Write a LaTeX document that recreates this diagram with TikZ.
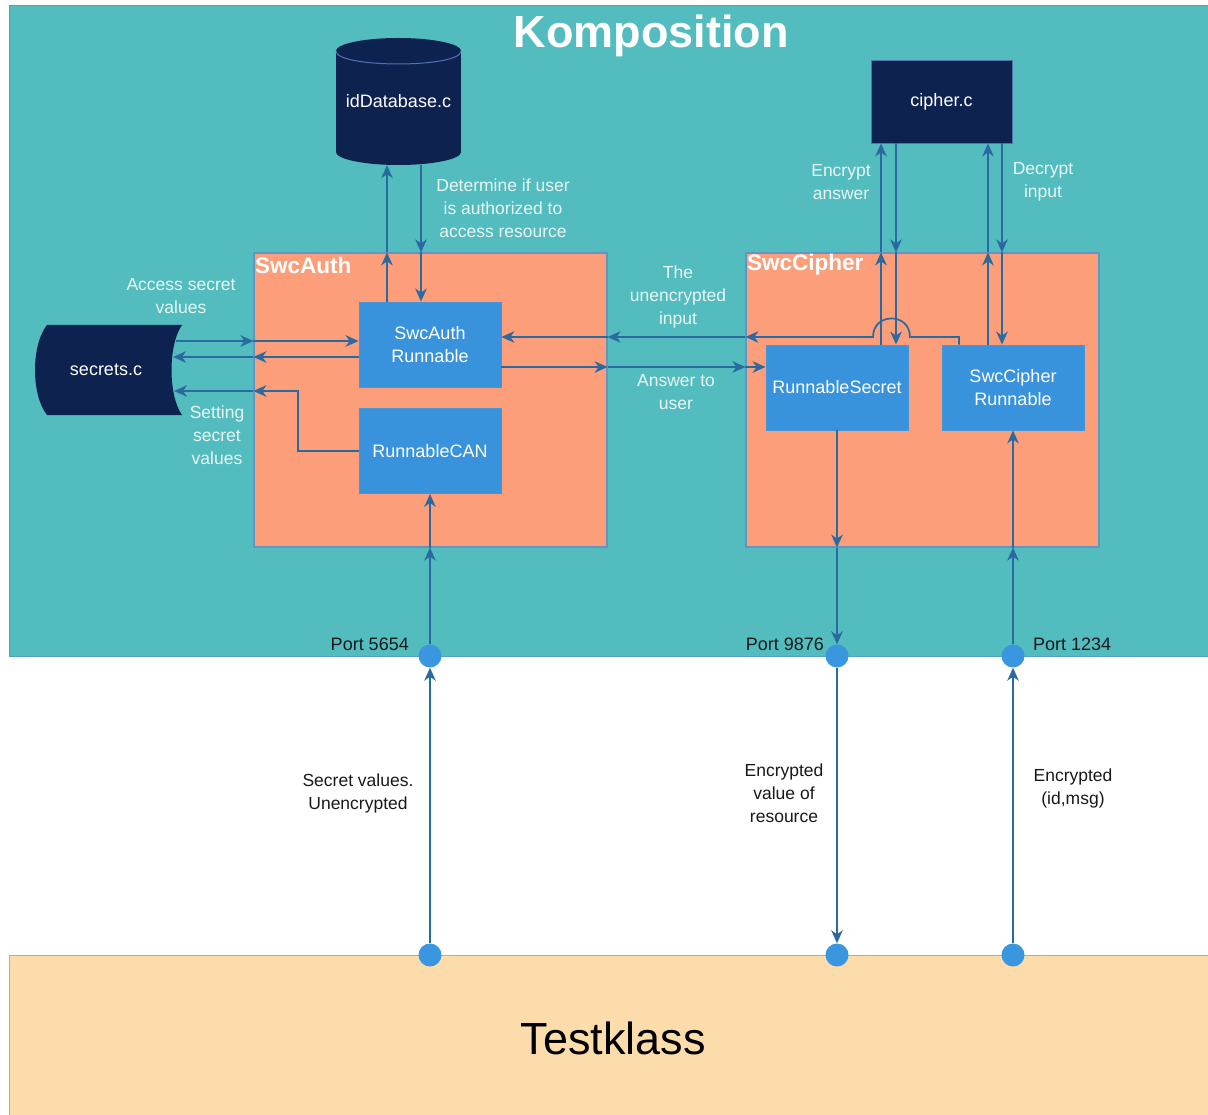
\documentclass[tikz,border=0pt]{standalone}
\usepackage{fontspec}
\setmainfont{Liberation Sans}
\usetikzlibrary{arrows.meta}

\definecolor{kompfill}{RGB}{82,188,190}
\definecolor{kompline}{RGB}{84,160,196}
\definecolor{swcfill}{RGB}{252,158,121}
\definecolor{swcline}{RGB}{98,148,196}
\definecolor{runfill}{RGB}{56,147,220}
\definecolor{runline}{RGB}{70,150,215}
\definecolor{dbnavy}{RGB}{14,34,80}
\definecolor{dbrim}{RGB}{80,115,175}
\definecolor{wirecol}{RGB}{42,106,160}
\definecolor{lightlbl}{RGB}{234,246,246}
\definecolor{testfill}{RGB}{253,220,171}
\definecolor{testline}{RGB}{140,184,208}
\definecolor{portfill}{RGB}{58,150,222}

\begin{document}
\begin{tikzpicture}[x=1pt,y=-1pt,
  swcbox/.style={draw=swcline, fill=swcfill, line width=1.2pt,
    minimum width=353pt, minimum height=294pt, inner sep=0pt},
  runbox/.style={fill=runfill, draw=runline, line width=0.8pt,
    minimum width=142pt, minimum height=85pt, inner sep=0pt,
    text=white, align=center, font=\fontsize{18}{23}\selectfont},
  filebox/.style={fill=dbnavy, draw=dbrim, line width=0.8pt,
    minimum width=141pt, minimum height=83pt, inner sep=0pt,
    text=white, font=\fontsize{18}{23}\selectfont},
  wire/.style={draw=wirecol, line width=1.7pt},
  flow/.style={wire, -{Stealth[length=13pt,width=11.5pt,inset=4pt]}},
  lightnote/.style={text=lightlbl, align=center, font=\fontsize{17.5}{23}\selectfont},
  darknote/.style={text=black!90, align=center, font=\fontsize{17.5}{23}\selectfont},
  portlbl/.style={text=black!90, font=\fontsize{18}{22}\selectfont, inner sep=0pt},
  swctitle/.style={anchor=west, text=white, inner sep=0pt,
    font=\bfseries\fontsize{22.5}{27}\selectfont},
  port/.style={circle, fill=portfill, minimum size=23pt, inner sep=0pt}]

\useasboundingbox (0,0) rectangle (1208,1115);
\fill[white] (0,0) rectangle (1208,1115);

% composition frame and test class frame
\node[draw=kompline, fill=kompfill, line width=1pt, anchor=north west,
  minimum width=1200pt, minimum height=651pt, inner sep=0pt] (komp) at (9,5) {};
\node[text=white, font=\bfseries\fontsize{45}{54}\selectfont] (title) at (651,36) {Komposition};

\node[draw=testline, fill=testfill, line width=1pt, anchor=north west,
  minimum width=1200pt, minimum height=162pt, inner sep=0pt] (test) at (9,955) {};
\node[text=black, font=\fontsize{45}{54}\selectfont] (testlbl) at (613,1038) {Testklass};

% software components
\node[swcbox] (auth) at (430.5,400) {};
\node[swctitle] (authlbl) at (255,265) {SwcAuth};
\node[swcbox] (ciph) at (922.5,400) {};
\node[swctitle] (ciphlbl) at (747,265) {SwcCipher};

% runnables
\node[runbox] (sar) at (430,344.5) {SwcAuth\\Runnable};
\node[runbox] (can) at (430,451) {RunnableCAN};
\node[runbox] (rs) at (837,387.5) {RunnableSecret};
\node[runbox] (scr) at (1013,387.5) {SwcCipher\\Runnable};

% idDatabase.c cylinder
\fill[dbnavy] (336,51) rectangle (461,152);
\fill[dbnavy] (398.5,152) ellipse [x radius=62.5, y radius=13];
\fill[dbnavy] (398.5,51) ellipse [x radius=62.5, y radius=13];
\draw[dbrim, line width=1pt] (336,51) .. controls (336,68.3) and (461,68.3) .. (461,51);
\node[minimum width=125pt, minimum height=127pt, inner sep=0pt, text=white,
  font=\fontsize{18}{23}\selectfont] (db) at (398.5,101.5) {idDatabase.c};

% cipher.c
\node[filebox] (cipher) at (941.5,101.5) {cipher.c};

% secrets.c stored-data shape
\fill[dbnavy] (47,325) -- (182,325) .. controls (168,345) and (168,395) .. (182,415)
  -- (47,415) .. controls (31,395) and (31,345) .. (47,325);
\node[minimum width=147pt, minimum height=90pt, inner sep=0pt, text=white,
  font=\fontsize{18}{23}\selectfont] (sec) at (106,370) {secrets.c};

% ports
\node[port] (pA) at (430,656) {};
\node[port] (pB) at (837,656) {};
\node[port] (pC) at (1013,656) {};
\node[port] (pAb) at (430,955) {};
\node[port] (pBb) at (837,955) {};
\node[port] (pCb) at (1013,955) {};
\node[portlbl, anchor=east] (lA) at (409,644) {Port 5654};
\node[portlbl, anchor=east] (lB) at (824,644) {Port 9876};
\node[portlbl, anchor=west] (lC) at (1033,644) {Port 1234};

% helper positions for the wires
\coordinate (xDbUp) at (387,0);
\coordinate (xDbDn) at (421,0);
\coordinate (xEnU) at (881,0);
\coordinate (xEnD) at (896,0);
\coordinate (xDeU) at (988,0);
\coordinate (xDeD) at (1002,0);
\coordinate (xCan) at (298,0);
\coordinate (xHop) at (959,0);
\coordinate (yAcc) at (0,341);
\coordinate (yRet) at (0,357);
\coordinate (ySet) at (0,391);
\coordinate (yIn) at (0,337);
\coordinate (yAns) at (0,367);
\coordinate (secAcc) at (176,341);
\coordinate (secRet) at (173,357);
\coordinate (secSet) at (174,391);
\coordinate (hopR) at (910,337);
\coordinate (hopL) at (873,337);

% idDatabase.c <-> SwcAuth Runnable
\draw[flow] (xDbUp |- sar.north) -- (xDbUp |- auth.north);
\draw[flow] (xDbUp |- auth.north) -- (xDbUp |- db.south);
\draw[flow] (xDbDn |- db.south) -- (xDbDn |- auth.north);
\draw[flow] (xDbDn |- auth.north) -- (xDbDn |- sar.north);

% secrets.c <-> SwcAuth
\draw[flow] (secAcc) -- (auth.west |- yAcc);
\draw[flow] (auth.west |- yAcc) -- (sar.west |- yAcc);
\draw[flow] (sar.west |- yRet) -- (auth.west |- yRet);
\draw[flow] (auth.west |- yRet) -- (secRet);
\draw[flow] (can.west) -- (xCan |- can.west) -- (xCan |- ySet) -- (auth.west |- ySet);
\draw[flow] (auth.west |- ySet) -- (secSet);

% SwcAuth <-> SwcCipher
\draw[flow] (scr.north -| xHop) -- (xHop |- yIn) -- (hopR)
  .. controls (910,312.3) and (873,312.3) .. (hopL) -- (ciph.west |- yIn);
\draw[flow] (ciph.west |- yIn) -- (auth.east |- yIn);
\draw[flow] (auth.east |- yIn) -- (sar.east |- yIn);
\draw[flow] (sar.east |- yAns) -- (auth.east |- yAns);
\draw[flow] (auth.east |- yAns) -- (ciph.west |- yAns);
\draw[flow] (ciph.west |- yAns) -- (rs.west |- yAns);

% runnables <-> cipher.c
\draw[flow] (xEnU |- rs.north) -- (xEnU |- ciph.north);
\draw[flow] (xEnU |- ciph.north) -- (xEnU |- cipher.south);
\draw[flow] (xEnD |- cipher.south) -- (xEnD |- ciph.north);
\draw[flow] (xEnD |- ciph.north) -- (xEnD |- rs.north);
\draw[flow] (xDeU |- scr.north) -- (xDeU |- ciph.north);
\draw[flow] (xDeU |- ciph.north) -- (xDeU |- cipher.south);
\draw[flow] (xDeD |- cipher.south) -- (xDeD |- ciph.north);
\draw[flow] (xDeD |- ciph.north) -- (xDeD |- scr.north);

% ports
\draw[flow] (pAb) -- (pA);
\draw[flow] (pA) -- (can.south |- auth.south);
\draw[flow] (can.south |- auth.south) -- (can.south);
\draw[flow] (rs.south) -- (rs.south |- ciph.south);
\draw[flow] (rs.south |- ciph.south) -- (pB);
\draw[flow] (pB) -- (pBb);
\draw[flow] (pCb) -- (pC);
\draw[flow] (pC) -- (scr.south |- ciph.south);
\draw[flow] (scr.south |- ciph.south) -- (scr.south);

% wire labels
\node[lightnote] (lDet) at (503,208) {Determine if user\\is authorized to\\access resource};
\node[lightnote] (lAcc) at (181,296) {Access secret\\values};
\node[lightnote] (lSet) at (217,435) {Setting\\secret\\values};
\node[lightnote] (lIn) at (678,297) {The\\unencrypted\\input};
\node[lightnote] (lAns) at (676,392) {Answer to\\user};
\node[lightnote] (lEnc) at (841,182) {Encrypt\\answer};
\node[lightnote] (lDec) at (1043,182) {Decrypt\\input};
\node[darknote] (lSv) at (358,793) {Secret values.\\Unencrypted};
\node[darknote] (lEv) at (784,793) {Encrypted\\value of\\resource};
\node[darknote] (lEi) at (1073,788) {Encrypted\\(id,msg)};

\end{tikzpicture}
\end{document}
